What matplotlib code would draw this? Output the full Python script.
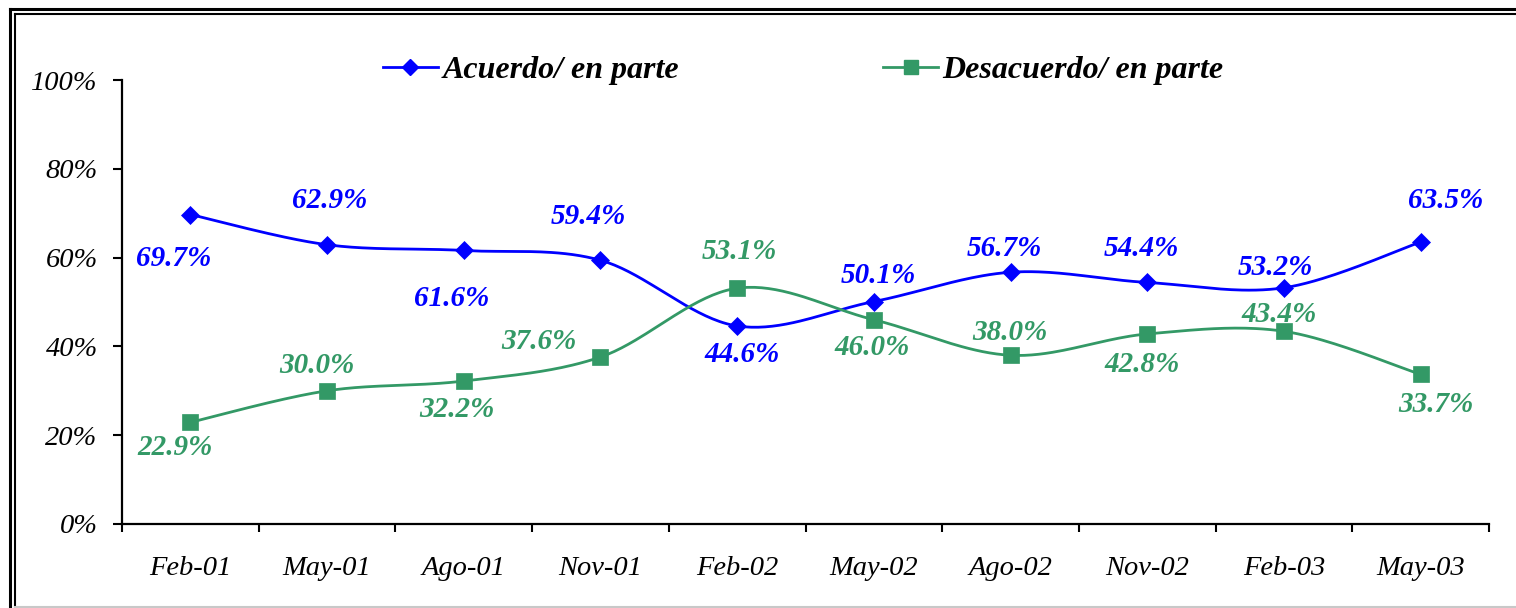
import matplotlib
matplotlib.use("Agg")
import matplotlib.pyplot as plt
import numpy as np
from matplotlib.lines import Line2D
from matplotlib.ticker import FixedLocator, PercentFormatter

categories = ["Feb-01", "May-01", "Ago-01", "Nov-01", "Feb-02", "May-02",
              "Ago-02", "Nov-02", "Feb-03", "May-03"]
acuerdo = [69.7, 62.9, 61.6, 59.4, 44.6, 50.1, 56.7, 54.4, 53.2, 63.5]
desacuerdo = [22.9, 30.0, 32.2, 37.6, 53.1, 46.0, 38.0, 42.8, 43.4, 33.7]

# label offsets (pixels) relative to each point, for the ink centre of the label
acuerdo_offsets = [(-17, -41), (3, 47), (-12, -46), (-12, 46), (5, -26),
                   (4, 29), (-6, 26), (-6, 36), (-9, 23), (25, 44)]
desacuerdo_offsets = [(-15, -23), (-10, 28), (-7, -26), (-62, 18), (2, 39),
                      (-2, -25), (-1, 25), (-5, -28), (-5, 19), (15, -28)]

BLUE = "#0000FF"
GREEN = "#339966"
SERIF = "Liberation Serif"


def smooth(xs, ys, n=40):
    xs = np.asarray(xs, float)
    ys = np.asarray(ys, float)
    px = np.concatenate([[xs[0]], xs, [xs[-1]]])
    py = np.concatenate([[ys[0]], ys, [ys[-1]]])
    ox, oy = [], []
    t = np.linspace(0, 1, n)
    for i in range(1, len(px) - 2):
        p0, p1, p2, p3 = (np.array([px[j], py[j]]) for j in range(i - 1, i + 3))
        c1 = p1 + (p2 - p0) / 6.0
        c2 = p2 - (p3 - p1) / 6.0
        b = ((1 - t) ** 3)[:, None] * p1 + (3 * (1 - t) ** 2 * t)[:, None] * c1 \
            + (3 * (1 - t) * t ** 2)[:, None] * c2 + (t ** 3)[:, None] * p2
        ox.extend(b[:, 0]); oy.extend(b[:, 1])
    return np.array(ox), np.array(oy)


fig = plt.figure(figsize=(15.16, 6.08), dpi=100)
ax = fig.add_axes([0.0805, 0.1382, 0.9017, 0.7302])

x = np.arange(len(categories))
for vals, col, mk, ms in [(acuerdo, BLUE, "D", 9.5), (desacuerdo, GREEN, "s", 11)]:
    sx, sy = smooth(x, vals)
    ax.plot(sx, sy, color=col, lw=2, zorder=2)
    ax.plot(x, vals, linestyle="none", marker=mk, markersize=ms, color=col,
            markeredgewidth=0.5, zorder=3)

FS = 21
for vals, offs, col in [(acuerdo, acuerdo_offsets, BLUE),
                        (desacuerdo, desacuerdo_offsets, GREEN)]:
    for xi, v, (dx, dy) in zip(x, vals, offs):
        ax.annotate(f"{v:.1f}%", (xi, v), xytext=(dx, dy - 10), textcoords="offset pixels",
                    ha="center", va="baseline", color=col, fontsize=FS,
                    fontweight="bold", fontstyle="italic", family=SERIF)

ax.set_xlim(-0.5, len(categories) - 0.5)
ax.set_ylim(0, 100)
ax.yaxis.set_major_locator(FixedLocator([0, 20, 40, 60, 80, 100]))
ax.yaxis.set_major_formatter(PercentFormatter(decimals=0))
ax.set_xticks(x)
ax.set_xticklabels(categories)
ax.set_xticks(np.arange(-0.5, len(categories)), minor=True)
ax.tick_params(axis="x", which="major", length=0, pad=23)
ax.tick_params(axis="x", which="minor", length=6, width=1.5, direction="out")
ax.tick_params(axis="y", length=6.5, width=1.5, direction="out", pad=11)
for lbl in ax.get_xticklabels() + ax.get_yticklabels():
    lbl.set_fontfamily(SERIF)
    lbl.set_fontstyle("italic")
    lbl.set_fontsize(20.5)
for s in ["top", "right"]:
    ax.spines[s].set_visible(False)
for s in ["left", "bottom"]:
    ax.spines[s].set_linewidth(1.6)
ax.set_facecolor("none")

handles = [Line2D([], [], color=BLUE, lw=2, marker="D", markersize=8.5),
           Line2D([], [], color=GREEN, lw=2, marker="s", markersize=10.5)]
fig.legend(handles, ["Acuerdo/ en parte", "Desacuerdo/ en parte"],
           loc="center", bbox_to_anchor=(0.530, 0.884), ncol=2, frameon=False,
           handlelength=1.7, handletextpad=0.15, columnspacing=6.4,
           prop={"family": SERIF, "weight": "bold", "style": "italic", "size": 23})

# double frame
W, H = 1516, 608
def fl(xs, ys, lw, col="black"):
    fig.add_artist(Line2D(np.array(xs) / W, 1 - np.array(ys) / H, color=col, lw=lw,
                          transform=fig.transFigure))
fl([9.5, 9.5], [8.5, 610], 2.2)
fl([9.5, 1520], [8.5, 8.5], 2.2)
fl([15, 15], [14, 610], 1.5)
fl([15, 1520], [14, 14], 1.5)
fl([15, 1520], [606.5, 606.5], 1.5, "#c8c8c8")

fig.savefig("out.png", dpi=100)
